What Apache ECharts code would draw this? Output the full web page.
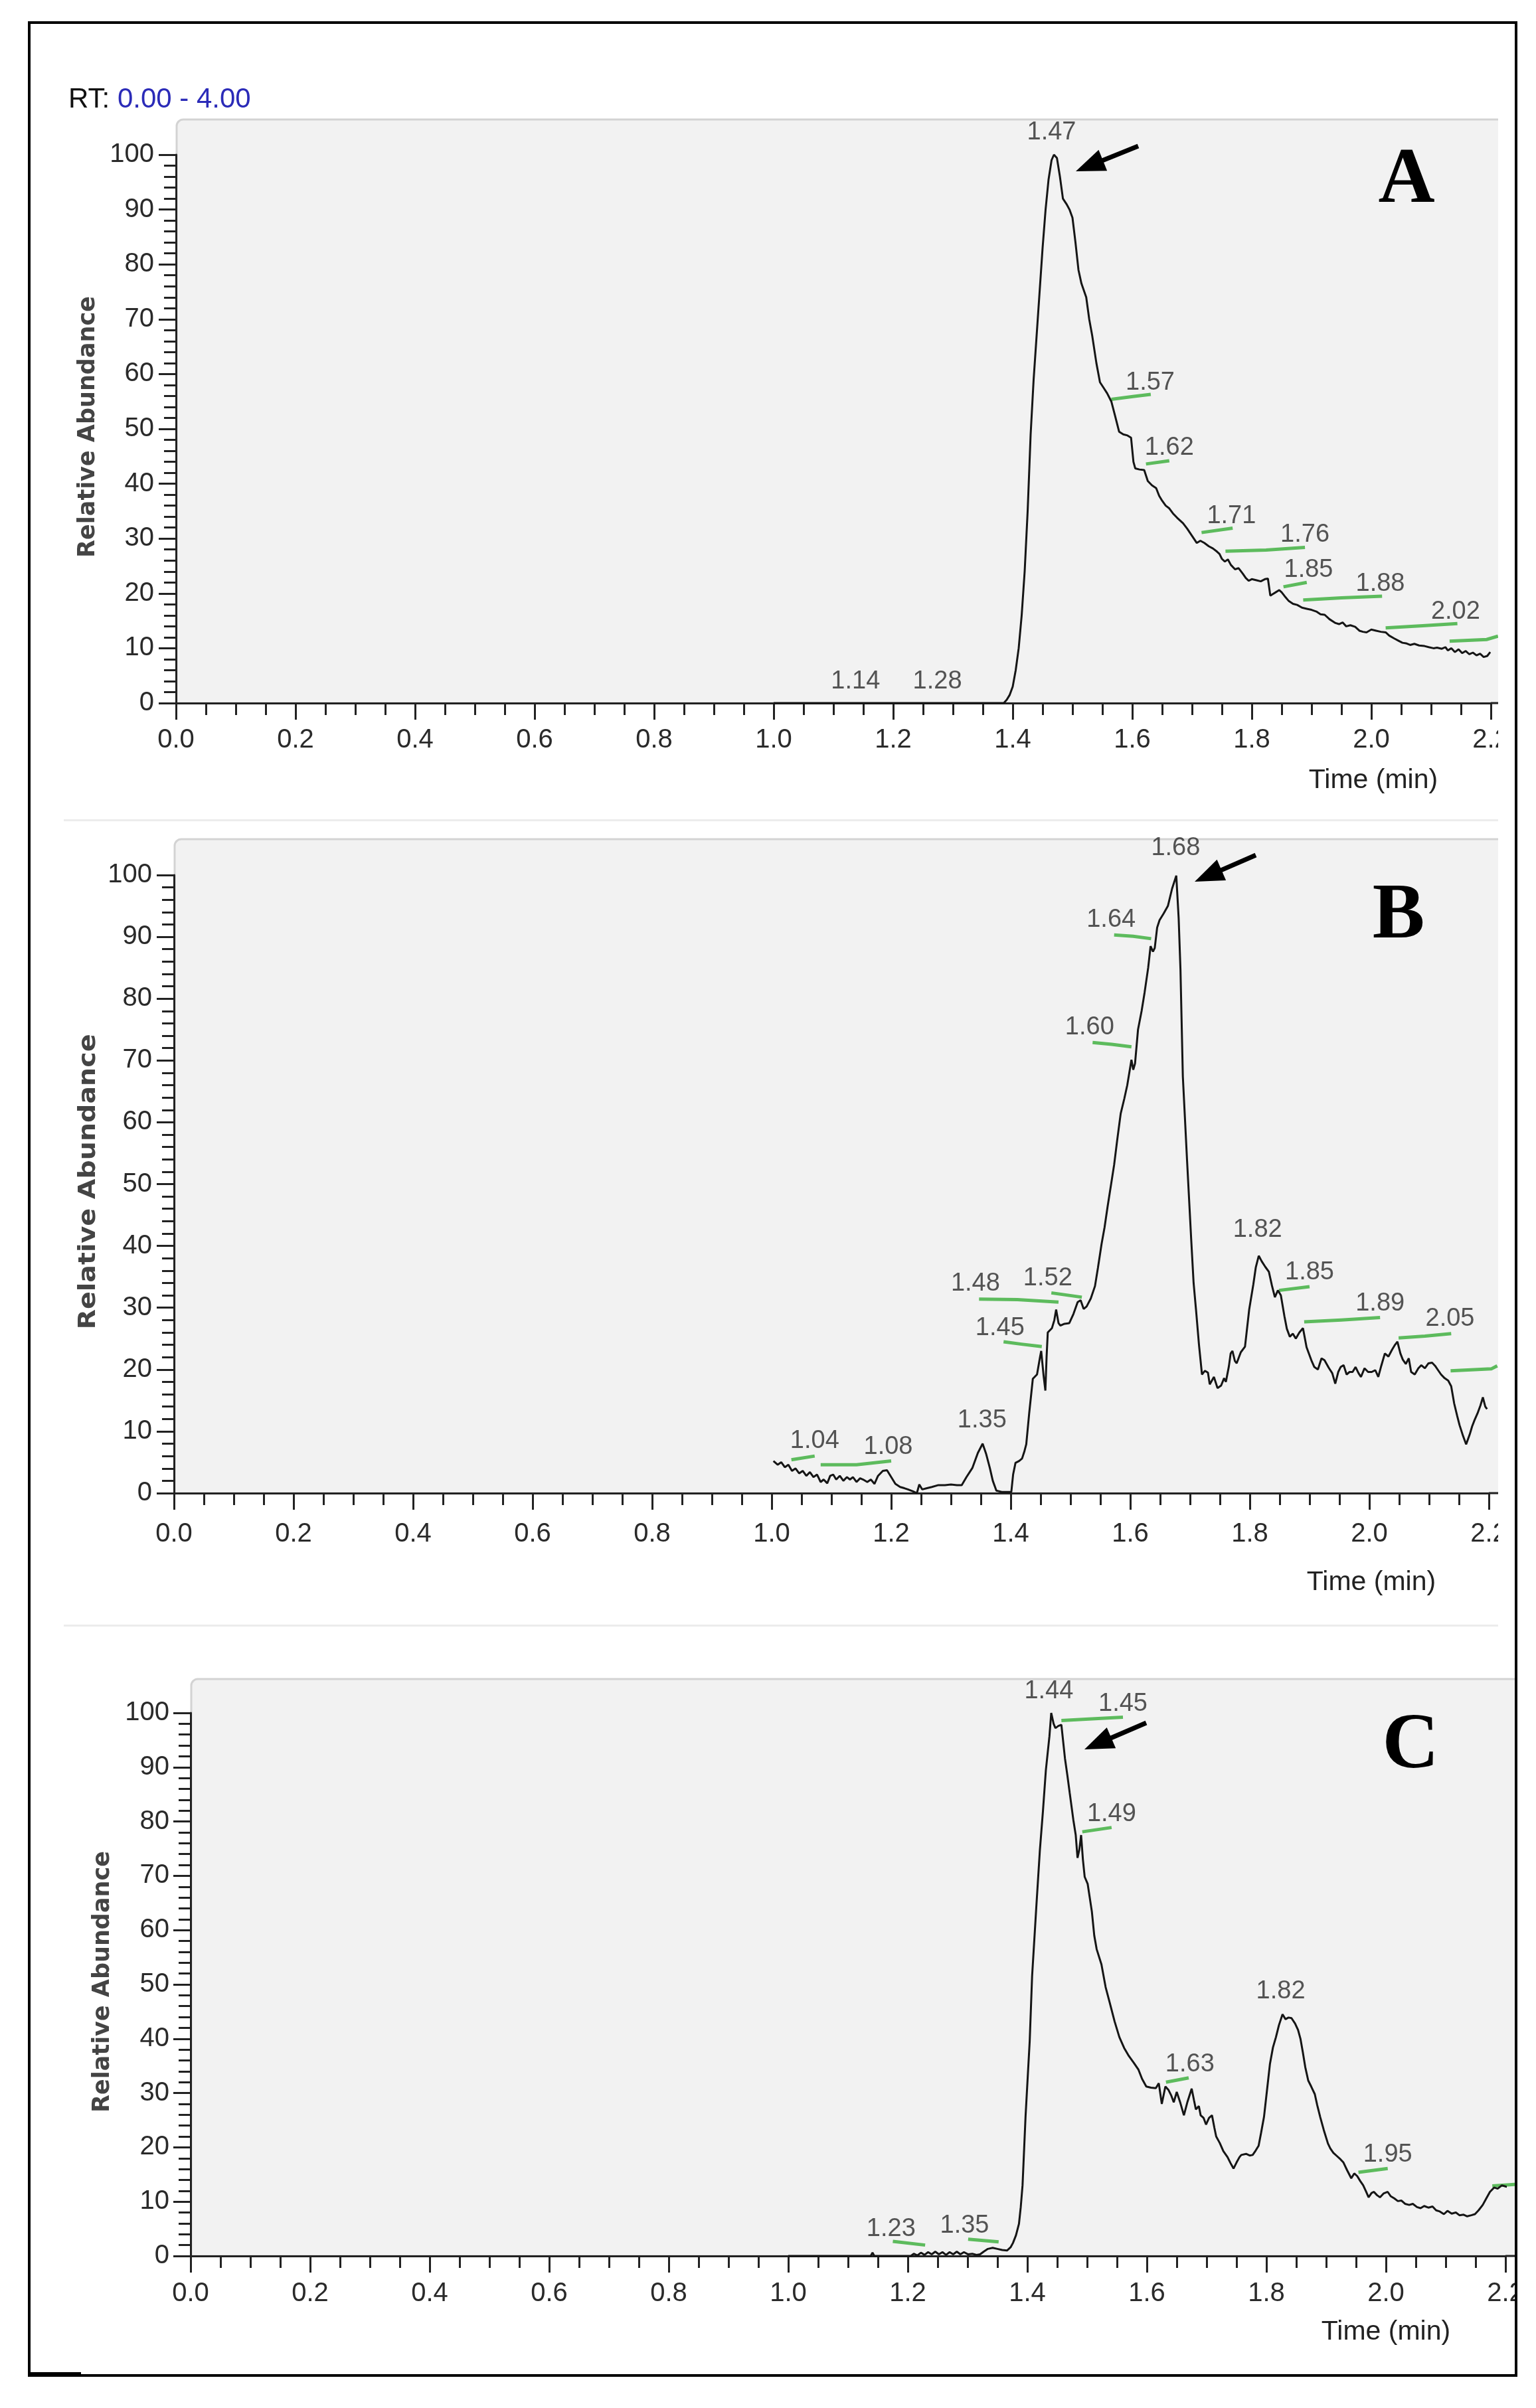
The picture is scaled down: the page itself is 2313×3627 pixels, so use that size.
<!DOCTYPE html>
<html>
<head>
<meta charset="utf-8">
<script src="https://cdn.jsdelivr.net/npm/echarts@6/dist/echarts.min.js"></script>
<style>
  html, body { margin: 0; padding: 0; background: #fff; }
  body { width: 2313px; height: 3627px; position: relative; overflow: hidden; }
  .chart { position: absolute; left: 0; }
  .frame { position: absolute; left: 42px; top: 32px; width: 2243px; height: 3548px;
           border: 4px solid #000; box-sizing: border-box; z-index: 10; pointer-events: none; }
  .sep { position: absolute; left: 96px; width: 2160px; height: 3px; background: #ececec; z-index: 5; }
  .foot { position: absolute; left: 42px; top: 3573px; width: 80px; height: 7px; background: #000; z-index: 11; }
</style>
</head>
<body>
<div id="chartA" class="chart" style="top:0px;width:2256px;height:1235px;"></div>
<div id="chartB" class="chart" style="top:1235px;width:2256px;height:1212px;"></div>
<div id="chartC" class="chart" style="top:2447px;width:2285px;height:1180px;"></div>
<div class="sep" style="top:1234px;"></div>
<div class="sep" style="top:2447px;"></div>
<div class="frame"></div>
<div class="foot"></div>
<script>
// ---------------- DATA ----------------
const xTicks = [0.0, 0.2, 0.4, 0.6, 0.8, 1.0, 1.2, 1.4, 1.6, 1.8, 2.0, 2.2];
const yTicks = [0, 10, 20, 30, 40, 50, 60, 70, 80, 90, 100];

// Panel A trace [time, relative abundance]
const traceA = [
[1.00,0],[1.385,0],[1.39,0.6],[1.395,1.5],[1.40,3],[1.405,6],[1.41,10],[1.415,16],[1.42,24],[1.425,35],
[1.43,49],[1.435,59],[1.44,67],[1.445,75],[1.45,83],[1.455,90],[1.46,95.5],[1.465,99],[1.469,100],[1.474,99.4],
[1.479,96],[1.484,92],[1.49,91],[1.495,90],[1.50,88.5],[1.505,84],[1.51,79],[1.515,76.5],[1.523,74],[1.528,70],
[1.533,67],[1.54,62],[1.546,58.5],[1.552,57.5],[1.558,56.5],[1.565,55],[1.571,52.5],[1.578,49.5],[1.585,49],[1.592,48.8],
[1.598,48.4],[1.602,44],[1.605,42.8],[1.612,42.6],[1.62,42.5],[1.626,40.5],[1.633,39.7],[1.64,39.2],[1.645,37.8],[1.65,36.9],
[1.656,36],[1.662,35.5],[1.668,34.6],[1.675,33.8],[1.685,32.8],[1.692,31.8],[1.70,30.5],[1.708,29.2],[1.714,29.6],[1.7206,29.2],
[1.728,28.6],[1.735,28.2],[1.742,27.6],[1.746,27.2],[1.75,26.3],[1.755,25.8],[1.76,26.2],[1.765,25.2],[1.772,24.4],[1.778,24.6],
[1.785,23.6],[1.79,22.8],[1.795,22.3],[1.80,22.6],[1.808,22.4],[1.815,22.2],[1.822,22.6],[1.827,22.7],[1.831,19.6],[1.834,19.8],
[1.84,20.2],[1.846,20.6],[1.85,20.2],[1.855,19.5],[1.862,18.6],[1.869,18.1],[1.876,17.9],[1.884,17.4],[1.892,17.2],[1.90,17],
[1.908,16.7],[1.915,16.2],[1.922,16.1],[1.93,15.3],[1.94,14.6],[1.946,14.4],[1.952,14.7],[1.958,14],[1.965,14.2],[1.973,13.9],
[1.98,13.2],[1.986,13.0],[1.992,12.9],[2.00,13.4],[2.008,13.2],[2.016,13.0],[2.024,12.9],[2.03,12.3],[2.038,11.8],[2.045,11.4],
[2.052,11.0],[2.058,10.9],[2.065,10.6],[2.072,10.8],[2.08,10.5],[2.089,10.4],[2.096,10.2],[2.104,10.0],[2.11,10.1],[2.118,9.9],
[2.124,10.2],[2.128,9.6],[2.134,10.0],[2.14,9.3],[2.146,9.8],[2.152,9.1],[2.158,9.5],[2.164,8.9],[2.17,9.2],[2.176,8.7],
[2.182,9.0],[2.188,8.4],[2.194,8.6],[2.199,9.3]
];
const labelsA = [
[1.465,104,'1.47'],[1.63,58.4,'1.57'],[1.662,46.5,'1.62'],[1.766,34.1,'1.71'],[1.889,30.7,'1.76'],
[1.895,24.3,'1.85'],[2.015,21.7,'1.88'],[2.141,16.7,'2.02'],[1.137,3.9,'1.14'],[1.274,3.9,'1.28']
];
const flagsA = [
[[1.565,55.4],[1.601,55.9],[1.631,56.3]],
[[1.623,43.6],[1.662,44.2]],
[[1.716,31.1],[1.768,31.9]],
[[1.756,27.7],[1.824,27.9],[1.889,28.4]],
[[1.853,21.2],[1.892,22.0]],
[[1.886,18.8],[1.95,19.2],[2.018,19.5]],
[[2.024,13.7],[2.086,14.1],[2.144,14.5]],
[[2.131,11.3],[2.193,11.6],[2.212,12.2]]
];

// Panel B trace
const traceB = [
[1.003,5.2],[1.01,4.6],[1.016,5.0],[1.022,4.2],[1.028,4.6],[1.034,3.6],[1.04,4.0],[1.046,3.2],[1.052,3.6],[1.058,2.8],
[1.064,3.4],[1.07,2.6],[1.076,3.0],[1.082,1.8],[1.087,2.2],[1.093,1.6],[1.098,2.8],[1.103,3.0],[1.108,2.2],[1.114,2.8],
[1.12,2.0],[1.126,2.6],[1.131,2.2],[1.136,2.6],[1.142,1.8],[1.148,2.4],[1.153,2.2],[1.16,1.8],[1.166,2.2],[1.172,1.5],
[1.178,2.8],[1.186,3.6],[1.193,3.7],[1.2,2.6],[1.207,1.5],[1.215,1.0],[1.222,0.8],[1.228,0.6],[1.236,0.3],[1.243,0],
[1.247,1.4],[1.252,0.6],[1.26,0.8],[1.268,1.0],[1.279,1.3],[1.29,1.3],[1.30,1.4],[1.31,1.3],[1.318,1.3],[1.326,2.6],
[1.336,4.1],[1.345,6.5],[1.353,8.0],[1.359,6.3],[1.365,4.1],[1.37,2.0],[1.376,0.4],[1.385,0.2],[1.401,0.2],[1.404,3.0],
[1.408,4.9],[1.414,5.2],[1.419,5.6],[1.423,6.8],[1.426,7.9],[1.431,13],[1.437,18.5],[1.444,19.2],[1.449,22],[1.451,23],
[1.455,19],[1.458,16.6],[1.46,22],[1.462,26],[1.469,26.7],[1.473,28],[1.476,29.7],[1.48,27.5],[1.483,27.1],[1.49,27.4],
[1.498,27.5],[1.505,29],[1.512,30.9],[1.517,31.2],[1.522,29.8],[1.527,30.2],[1.534,31.5],[1.541,33.5],[1.546,36.5],[1.552,40.3],
[1.557,43],[1.562,46.3],[1.568,50],[1.573,53.1],[1.578,57],[1.584,61.4],[1.59,63.8],[1.595,66],[1.602,70.1],[1.605,68.5],
[1.608,69.5],[1.613,75],[1.619,78],[1.624,81],[1.63,85],[1.634,88.5],[1.638,87.6],[1.641,88.2],[1.645,91.5],[1.649,92.7],
[1.656,93.8],[1.663,95],[1.67,97.8],[1.677,99.9],[1.681,93],[1.684,84.8],[1.688,67.4],[1.695,53.9],[1.702,41],[1.706,34],
[1.71,29.7],[1.715,24],[1.72,19.2],[1.725,19.8],[1.73,19.5],[1.733,17.6],[1.74,18.8],[1.746,17],[1.752,17.4],[1.757,18.6],
[1.76,18],[1.765,20.5],[1.768,22.6],[1.771,23],[1.775,21.4],[1.778,21],[1.785,22.8],[1.792,23.7],[1.799,29.7],[1.806,33.8],
[1.81,36.5],[1.815,38.4],[1.82,37.5],[1.826,36.6],[1.832,35.8],[1.837,33.6],[1.842,31.7],[1.847,32.8],[1.852,32],[1.858,28.6],
[1.862,26.6],[1.867,25.3],[1.872,25.8],[1.877,25],[1.883,26],[1.889,26.7],[1.895,23.6],[1.903,21.5],[1.908,20.4],[1.914,20],
[1.92,21.8],[1.925,21.5],[1.932,20.3],[1.938,19.4],[1.943,17.7],[1.948,19.6],[1.952,20.4],[1.957,20.7],[1.962,19.2],[1.967,19.6],
[1.972,19.6],[1.977,20.4],[1.982,19.4],[1.986,18.8],[1.992,20.2],[1.998,19.6],[2.004,19.6],[2.01,19.9],[2.015,18.8],[2.02,20.6],
[2.026,22.6],[2.032,22.1],[2.038,23.2],[2.043,24.0],[2.047,24.5],[2.052,22.6],[2.056,21.6],[2.061,20.9],[2.066,21.8],[2.07,19.6],
[2.076,19.2],[2.082,20.2],[2.087,20.7],[2.093,20.2],[2.099,21],[2.105,21.1],[2.11,20.6],[2.115,19.9],[2.12,19.2],[2.126,18.6],
[2.132,18.2],[2.137,17.3],[2.142,14.5],[2.147,12.5],[2.151,11],[2.157,9.2],[2.162,7.9],[2.168,9.5],[2.172,10.8],[2.176,11.8],
[2.181,12.9],[2.186,14.2],[2.19,15.5],[2.194,14],[2.197,13.6]
];
const labelsB = [
[1.676,104.3,'1.68'],[1.568,92.7,'1.64'],[1.532,75.4,'1.60'],[1.341,33.9,'1.48'],[1.462,34.7,'1.52'],
[1.382,26.7,'1.45'],[1.352,11.8,'1.35'],[1.813,42.6,'1.82'],[1.90,35.7,'1.85'],[2.018,30.7,'1.89'],
[2.135,28.2,'2.05'],[1.072,8.4,'1.04'],[1.195,7.5,'1.08']
];
const flagsB = [
[[1.573,90.3],[1.605,90.1],[1.635,89.7]],
[[1.537,72.9],[1.569,72.6],[1.602,72.2]],
[[1.347,31.4],[1.411,31.3],[1.48,30.9]],
[[1.468,32.4],[1.519,31.7]],
[[1.388,24.5],[1.418,24.1],[1.452,23.7]],
[[1.849,32.8],[1.90,33.4]],
[[1.891,27.7],[1.953,28.0],[2.018,28.4]],
[[2.049,25.1],[2.093,25.4],[2.137,25.8]],
[[2.136,19.8],[2.204,20.1],[2.214,20.6]],
[[1.033,5.4],[1.072,6.0]],
[[1.082,4.6],[1.142,4.6],[1.2,5.2]]
];

// Panel C trace
const traceC = [
[1.00,0],[1.138,0],[1.141,0.6],[1.144,0],[1.205,0],[1.21,0.4],[1.216,0.1],[1.222,0.6],[1.228,0.2],[1.234,0.7],
[1.24,0.3],[1.246,0.8],[1.252,0.3],[1.258,0.7],[1.264,0.2],[1.27,0.7],[1.276,0.3],[1.282,0.8],[1.288,0.3],[1.294,0.7],
[1.301,0.3],[1.308,0.4],[1.315,0.2],[1.321,0.3],[1.327,0.8],[1.334,1.3],[1.342,1.5],[1.35,1.3],[1.358,1.1],[1.366,1.0],
[1.372,1.6],[1.376,2.4],[1.381,3.8],[1.386,5.9],[1.389,9],[1.392,13],[1.397,25.6],[1.404,39.6],[1.408,51.5],[1.415,64.2],
[1.421,74.7],[1.426,81.7],[1.431,89.4],[1.437,95.7],[1.44,100],[1.444,98],[1.447,97.2],[1.452,97.6],[1.457,97.8],[1.463,91.6],
[1.467,88.5],[1.471,85.2],[1.477,80.3],[1.481,77.5],[1.484,73.3],[1.487,74.8],[1.49,77.5],[1.493,73],[1.496,69.8],[1.501,68.5],
[1.508,63.4],[1.512,59],[1.516,56.5],[1.524,53.7],[1.531,49.5],[1.538,46.6],[1.546,43.2],[1.554,40.3],[1.562,38.3],[1.57,36.8],
[1.578,35.6],[1.586,34.3],[1.592,32.6],[1.599,31.2],[1.607,31.0],[1.615,30.9],[1.62,31.8],[1.625,28],[1.631,31.2],[1.636,30.6],
[1.641,29.5],[1.645,28.3],[1.65,30.2],[1.656,28.2],[1.662,25.9],[1.668,28.4],[1.675,30.8],[1.679,28.6],[1.682,27],[1.687,27.6],
[1.69,25.9],[1.695,25.4],[1.699,24.2],[1.704,25.4],[1.709,25.9],[1.713,23.6],[1.716,22],[1.722,20.8],[1.728,19.3],[1.735,18.2],
[1.74,17.1],[1.745,16.1],[1.75,17.2],[1.755,18.2],[1.758,18.6],[1.766,18.8],[1.772,18.5],[1.777,18.6],[1.782,19.4],[1.787,20.3],
[1.791,22.6],[1.796,25.6],[1.801,30.5],[1.806,35.4],[1.811,38.4],[1.816,40.3],[1.821,42.5],[1.827,44.5],[1.832,43.6],[1.837,43.9],
[1.842,43.8],[1.848,42.8],[1.853,41.6],[1.857,40],[1.861,37.5],[1.865,34.8],[1.87,32.3],[1.875,31.2],[1.881,29.8],[1.885,27.8],
[1.89,25.6],[1.896,23.2],[1.903,20.7],[1.907,19.8],[1.912,19],[1.918,18.4],[1.924,17.8],[1.929,17.2],[1.935,15.8],[1.942,14.3],
[1.947,15.2],[1.952,14.7],[1.957,13.8],[1.962,13],[1.967,11.8],[1.971,10.8],[1.976,11.6],[1.98,11.8],[1.985,11.2],[1.99,10.8],
[1.996,11.5],[2.003,11.8],[2.008,11],[2.014,10.6],[2.02,10.1],[2.026,10.2],[2.032,9.6],[2.039,9.4],[2.045,9.6],[2.052,9.0],
[2.058,8.8],[2.064,9.2],[2.071,8.9],[2.078,9.1],[2.084,8.4],[2.09,8.2],[2.097,7.7],[2.103,8.3],[2.11,7.8],[2.117,8],
[2.123,7.5],[2.13,7.6],[2.136,7.3],[2.143,7.5],[2.149,7.7],[2.155,8.4],[2.162,9.4],[2.168,10.6],[2.174,11.8],[2.181,12.6],
[2.187,12.4],[2.194,13],[2.2,12.8],[2.207,12.6],[2.218,13]
];
const labelsC = [
[1.436,104,'1.44'],[1.56,101.7,'1.45'],[1.541,81.4,'1.49'],[1.824,48.7,'1.82'],
[1.672,35.3,'1.63'],[2.003,18.6,'1.95'],[1.295,5.5,'1.35'],[1.172,4.9,'1.23']
];
const flagsC = [
[[1.457,98.6],[1.508,98.9],[1.56,99.2]],
[[1.492,78.1],[1.541,78.9]],
[[1.632,32.0],[1.67,32.8]],
[[1.954,15.4],[2.003,16.1]],
[[2.178,12.9],[2.219,13.2]],
[[1.301,3.1],[1.352,2.6]],
[[1.175,2.7],[1.229,2.0]]
];

const panelNames = ['A', 'B', 'C'];
const yTitle = 'Relative Abundance';
const xTitle = 'Time (min)';
const rtRange = '0.00 - 4.00';

// ---------------- RENDERING ----------------
const SANS = '"Liberation Sans", Arial, sans-serif';
const INK = '#222';

function arrow(tx, ty, hx, hy) {
  const dx = hx - tx, dy = hy - ty, L = Math.hypot(dx, dy);
  const ux = dx / L, uy = dy / L, hl = 44, hw = 17;
  const bx = hx - ux * hl, by = hy - uy * hl;
  return [
    { type: 'line', z: 50, shape: { x1: tx, y1: ty, x2: bx + ux * 6, y2: by + uy * 6 },
      style: { stroke: '#000', lineWidth: 7 } },
    { type: 'polygon', z: 50, shape: { points: [[hx, hy], [bx - uy * hw, by + ux * hw], [bx + uy * hw, by - ux * hw]] },
      style: { fill: '#000' } }
  ];
}

function buildOption(p) {
  const W = p.width, H = p.height;
  const x0 = p.gridLeft, xEnd = W - p.gridRight, yBottom = H - p.gridBottom;
  const graphics = [
    { type: 'rect', z: -10, shape: { x: x0 + 1, y: p.bgTop, width: W - x0 + 5, height: yBottom - p.bgTop, r: [10, 0, 0, 0] },
      style: { fill: '#f2f2f2', stroke: '#d3d3d3', lineWidth: 3 } },
    { type: 'line', z: 5, shape: { x1: xEnd, y1: yBottom, x2: W, y2: yBottom }, style: { stroke: INK, lineWidth: 3 } },
    { type: 'text', z: 50, x: p.letter[0], y: p.letter[1],
      style: { text: p.name, font: 'bold 118px "Liberation Serif", "Times New Roman", serif', fill: '#000',
               align: 'center', verticalAlign: 'middle', textAlign: 'center', textVerticalAlign: 'middle' } },
    { type: 'text', z: 50, x: p.yTitle[0], y: p.yTitle[1], rotation: Math.PI / 2, scaleX: p.yTitleScale || 1,
      style: { text: yTitle, font: 'bold 35px "DejaVu Sans", sans-serif', fill: '#444',
               align: 'center', verticalAlign: 'middle', textAlign: 'center', textVerticalAlign: 'middle' } },
    { type: 'text', z: 50, x: p.xTitle[0], y: p.xTitle[1],
      style: { text: xTitle, font: '41px ' + SANS, fill: INK,
               align: 'center', verticalAlign: 'middle', textAlign: 'center', textVerticalAlign: 'middle' } }
  ].concat(arrow(p.arrow[0], p.arrow[1], p.arrow[2], p.arrow[3]));
  if (p.rt) {
    graphics.push({ type: 'text', z: 50, x: 103, y: 150,
      style: { text: '{a|RT:} {b|' + rtRange + '}', font: '42px ' + SANS, verticalAlign: 'middle', textVerticalAlign: 'middle',
               rich: { a: { fill: '#111', font: '42px ' + SANS }, b: { fill: '#2b2bb8', font: '42px ' + SANS } } } });
  }
  const tickStyle = { color: INK, width: 3 };
  return {
    animation: false,
    backgroundColor: 'transparent',
    grid: { left: p.gridLeft, right: p.gridRight, top: p.gridTop, bottom: p.gridBottom, show: false,
            containLabel: false, outerBoundsMode: 'none' },
    xAxis: {
      type: 'value', min: xTicks[0], max: xTicks[xTicks.length - 1], interval: 0.2,
      axisLine: { show: true, onZero: false, lineStyle: tickStyle },
      axisTick: { show: true, length: 25, lineStyle: tickStyle },
      minorTick: { show: true, splitNumber: 4, length: 18, lineStyle: tickStyle },
      splitLine: { show: false }, minorSplitLine: { show: false },
      axisLabel: { margin: p.xLabelMargin, color: '#2a2a2a', fontSize: 40, fontFamily: SANS,
                   formatter: v => Number(v).toFixed(1) }
    },
    yAxis: {
      type: 'value', min: yTicks[0], max: yTicks[yTicks.length - 1], interval: 10,
      axisLine: { show: true, lineStyle: tickStyle },
      axisTick: { show: true, length: 26, lineStyle: tickStyle },
      minorTick: { show: true, splitNumber: 5, length: 18, lineStyle: tickStyle },
      splitLine: { show: false }, minorSplitLine: { show: false },
      axisLabel: { margin: p.yLabelMargin, color: '#2a2a2a', fontSize: 40, fontFamily: SANS }
    },
    graphic: graphics,
    series: [
      { type: 'lines', coordinateSystem: 'cartesian2d', polyline: true, clip: false, z: 3, silent: true,
        data: p.flags.map(c => ({ coords: c })),
        lineStyle: { color: '#5dbb5d', width: 5, opacity: 1 } },
      { type: 'line', data: p.trace, showSymbol: false, symbol: 'none', clip: false, z: 4, silent: true,
        lineStyle: { color: '#151515', width: 3 } },
      { type: 'scatter', data: p.labels, symbolSize: 1, clip: false, z: 5, silent: true,
        itemStyle: { color: 'rgba(0,0,0,0)' },
        label: { show: true, position: 'inside', formatter: d => d.data[2],
                 color: '#2a2a2a', fontSize: 38, fontFamily: SANS } }
    ]
  };
}

const panels = [
  { id: 'chartA', name: panelNames[0], width: 2256, height: 1235, gridLeft: 265, gridRight: 11, gridTop: 233, gridBottom: 176,
    bgTop: 180, xLabelMargin: 36, yLabelMargin: 33, letter: [2118, 274], yTitle: [133, 643], xTitle: [2068, 1176],
    arrow: [1714, 220, 1620, 258], rt: true, trace: traceA, labels: labelsA, flags: flagsA },
  { id: 'chartB', name: panelNames[1], width: 2256, height: 1212, gridLeft: 262, gridRight: 14, gridTop: 83, gridBottom: 198,
    bgTop: 29, xLabelMargin: 42, yLabelMargin: 33, letter: [2106, 147], yTitle: [134, 545], yTitleScale: 1.13, xTitle: [2065, 1149],
    arrow: [1891, 53, 1799, 93], rt: false, trace: traceB, labels: labelsB, flags: flagsB },
  { id: 'chartC', name: panelNames[2], width: 2285, height: 1180, gridLeft: 287, gridRight: 18, gridTop: 133, gridBottom: 229,
    bgTop: 82, xLabelMargin: 37, yLabelMargin: 32, letter: [2124, 185], yTitle: [155, 538], xTitle: [2087, 1066],
    arrow: [1726, 148, 1633, 188], rt: false, trace: traceC, labels: labelsC, flags: flagsC }
];

panels.forEach(p => {
  const chart = echarts.init(document.getElementById(p.id), null, { renderer: 'canvas', width: p.width, height: p.height });
  chart.setOption(buildOption(p));
});
</script>
</body>
</html>
